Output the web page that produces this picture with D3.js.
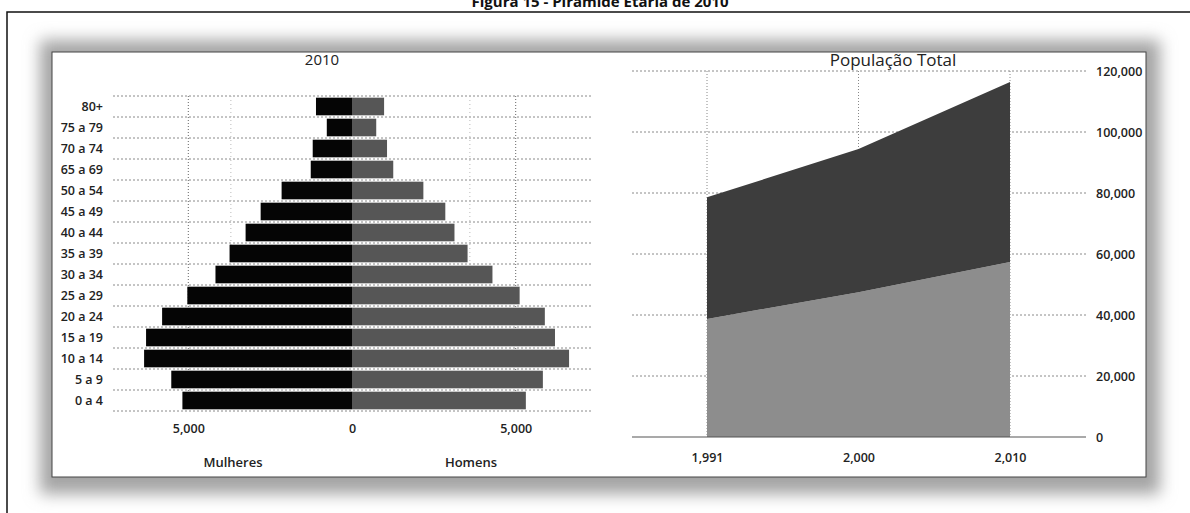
<!DOCTYPE html>
<html>
<head>
<meta charset="utf-8">
<script src="https://cdn.jsdelivr.net/npm/d3@7"></script>
<style>
  body { margin: 0; background: #fff; }
  text { font-family: "Open Sans", "DejaVu Sans", sans-serif; }
</style>
</head>
<body>
<div id="container"></div>
<script>
const width = 1190;
const height = 513;

// Pyramid data (2010)
const ageGroups = ["0 a 4", "5 a 9", "10 a 14", "15 a 19", "20 a 24", "25 a 29", "30 a 34",
  "35 a 39", "40 a 44", "45 a 49", "50 a 54", "65 a 69", "70 a 74", "75 a 79", "80+"];
const women = [5180, 5520, 6350, 6290, 5800, 5030, 4170, 3740, 3250, 2790, 2150, 1260, 1200, 770, 1100];
const men = [5310, 5830, 6630, 6200, 5890, 5120, 4290, 3530, 3130, 2850, 2180, 1260, 1070, 740, 980];
const pyramidTicks = [-5000, 0, 5000];
const pyramidMinorGrid = [-3700, 3600];

// Total population (stacked)
const years = [1991, 2000, 2010];
const menTotal = [38700, 47500, 57400];
const womenTotal = [39900, 46900, 59000];
const popTicks = [0, 20000, 40000, 60000, 80000, 100000, 120000];

const fmt = d3.format(",");

const svg = d3.select("#container").append("svg")
  .attr("width", width)
  .attr("height", height);

// caption + frame (the caption is cut by the top edge, as in the scan)
svg.append("text")
  .attr("x", 600).attr("y", 7)
  .attr("text-anchor", "middle")
  .style("font-size", "15px").style("font-weight", "bold").style("fill", "#111")
  .text("Figura 15 - Pirâmide Etária de 2010");

svg.append("path")
  .attr("d", "M7,513 V12 H1190")
  .attr("fill", "none").attr("stroke", "#111").attr("stroke-width", 1.5);

// card with shadow
const defs = svg.append("defs");
defs.append("filter").attr("id", "shadow")
  .attr("x", "-5%").attr("y", "-15%").attr("width", "110%").attr("height", "130%")
  .append("feGaussianBlur").attr("stdDeviation", 8);

svg.append("rect")
  .attr("x", 40).attr("y", 40).attr("width", 1120).attr("height", 454)
  .attr("fill", "#a4a4a4").attr("filter", "url(#shadow)");
svg.append("rect")
  .attr("x", 52).attr("y", 52).attr("width", 1094).attr("height", 425)
  .attr("fill", "#fff").attr("stroke", "#444").attr("stroke-width", 1);

const labelStyle = (g) => g.selectAll("text")
  .style("font-size", "12.5px").style("font-weight", "600").style("fill", "#222")
  .style("font-family", "'Open Sans', sans-serif");

// ---------- Pyramid ----------
const xScale = d3.scaleLinear().domain([-7300, 7300]).range([113, 591]);
const yScale = d3.scaleBand().domain(ageGroups.slice().reverse()).range([96, 411])
  .paddingInner(0.16).paddingOuter(0.08);

const pyr = svg.append("g");

// horizontal grid at band boundaries
const rowEdges = d3.range(ageGroups.length + 1).map((i) => 96 + i * yScale.step());
pyr.selectAll(".hgrid").data(rowEdges).enter().append("line")
  .attr("x1", 113).attr("x2", 591)
  .attr("y1", (d) => d).attr("y2", (d) => d)
  .attr("stroke", "#8a8a8a").attr("stroke-width", 1).attr("stroke-dasharray", "2,2");

pyr.selectAll(".vgrid").data(pyramidTicks.filter((d) => d !== 0)).enter().append("line")
  .attr("x1", (d) => xScale(d)).attr("x2", (d) => xScale(d))
  .attr("y1", 96).attr("y2", 411)
  .attr("stroke", "#666").attr("stroke-width", 1).attr("stroke-dasharray", "1,2");

pyr.selectAll(".vminor").data(pyramidMinorGrid).enter().append("line")
  .attr("x1", (d) => xScale(d)).attr("x2", (d) => xScale(d))
  .attr("y1", 96).attr("y2", 411)
  .attr("stroke", "#bbb").attr("stroke-width", 1).attr("stroke-dasharray", "1,3");

// bars
pyr.selectAll(".women").data(ageGroups).enter().append("rect")
  .attr("x", (d, i) => xScale(-women[i]))
  .attr("y", (d) => yScale(d))
  .attr("width", (d, i) => xScale(0) - xScale(-women[i]))
  .attr("height", yScale.bandwidth())
  .attr("fill", "#050505");

pyr.selectAll(".men").data(ageGroups).enter().append("rect")
  .attr("x", xScale(0))
  .attr("y", (d) => yScale(d))
  .attr("width", (d, i) => xScale(men[i]) - xScale(0))
  .attr("height", yScale.bandwidth())
  .attr("fill", "#565656");

// category labels
pyr.append("g")
  .attr("transform", "translate(111,0)")
  .call(d3.axisLeft(yScale).tickSize(0).tickPadding(8))
  .call((g) => g.select(".domain").remove())
  .call(labelStyle);

// value axis
pyr.append("g")
  .attr("transform", "translate(0,421)")
  .call(d3.axisBottom(xScale).tickValues(pyramidTicks).tickSize(0)
    .tickFormat((d) => fmt(Math.abs(d))))
  .call((g) => g.select(".domain").remove())
  .call(labelStyle);

pyr.append("text").attr("x", 233).attr("y", 467).attr("text-anchor", "middle")
  .style("font-size", "13px").style("font-weight", "600").style("fill", "#222").text("Mulheres");
pyr.append("text").attr("x", 471).attr("y", 467).attr("text-anchor", "middle")
  .style("font-size", "13px").style("font-weight", "600").style("fill", "#222").text("Homens");

pyr.append("text").attr("x", 322).attr("y", 65).attr("text-anchor", "middle")
  .style("font-size", "15px").style("fill", "#222").text("2010");

// ---------- População Total ----------
const px = d3.scalePoint().domain(years).range([707, 1010]);
const py = d3.scaleLinear().domain([0, 120000]).range([437, 71]);

const pop = svg.append("g");

pop.selectAll(".pgrid").data(popTicks.filter((d) => d > 0)).enter().append("line")
  .attr("x1", 632).attr("x2", 1086)
  .attr("y1", (d) => py(d)).attr("y2", (d) => py(d))
  .attr("stroke", "#8a8a8a").attr("stroke-width", 1).attr("stroke-dasharray", "2,2");

pop.selectAll(".xgrid").data(years).enter().append("line")
  .attr("x1", (d) => px(d)).attr("x2", (d) => px(d))
  .attr("y1", py(120000)).attr("y2", py(0))
  .attr("stroke", "#888").attr("stroke-width", 1).attr("stroke-dasharray", "1,2");

const table = years.map((y, i) => ({ year: y, men: menTotal[i], women: womenTotal[i] }));
const stacked = d3.stack().keys(["men", "women"])(table);
const popColours = { men: "#8d8d8d", women: "#3d3d3d" };

const area = d3.area()
  .x((d) => px(d.data.year))
  .y0((d) => py(d[0]))
  .y1((d) => py(d[1]));

pop.selectAll(".layer").data(stacked).enter().append("path")
  .attr("d", area)
  .attr("fill", (d) => popColours[d.key]);

pop.append("line")
  .attr("x1", 632).attr("x2", 1086)
  .attr("y1", py(0)).attr("y2", py(0))
  .attr("stroke", "#555").attr("stroke-width", 1.2);

pop.append("g")
  .attr("transform", "translate(1086,0)")
  .call(d3.axisRight(py).tickValues(popTicks).tickSize(0).tickPadding(10).tickFormat(fmt))
  .call((g) => g.select(".domain").remove())
  .call(labelStyle);

pop.append("g")
  .attr("transform", `translate(0,${py(0)})`)
  .call(d3.axisBottom(px).tickSize(0).tickPadding(16).tickFormat(fmt))
  .call((g) => g.select(".domain").remove())
  .call(labelStyle);

pop.append("text").attr("x", 893).attr("y", 66).attr("text-anchor", "middle")
  .style("font-size", "17px").style("fill", "#222").text("População Total");
</script>
</body>
</html>
